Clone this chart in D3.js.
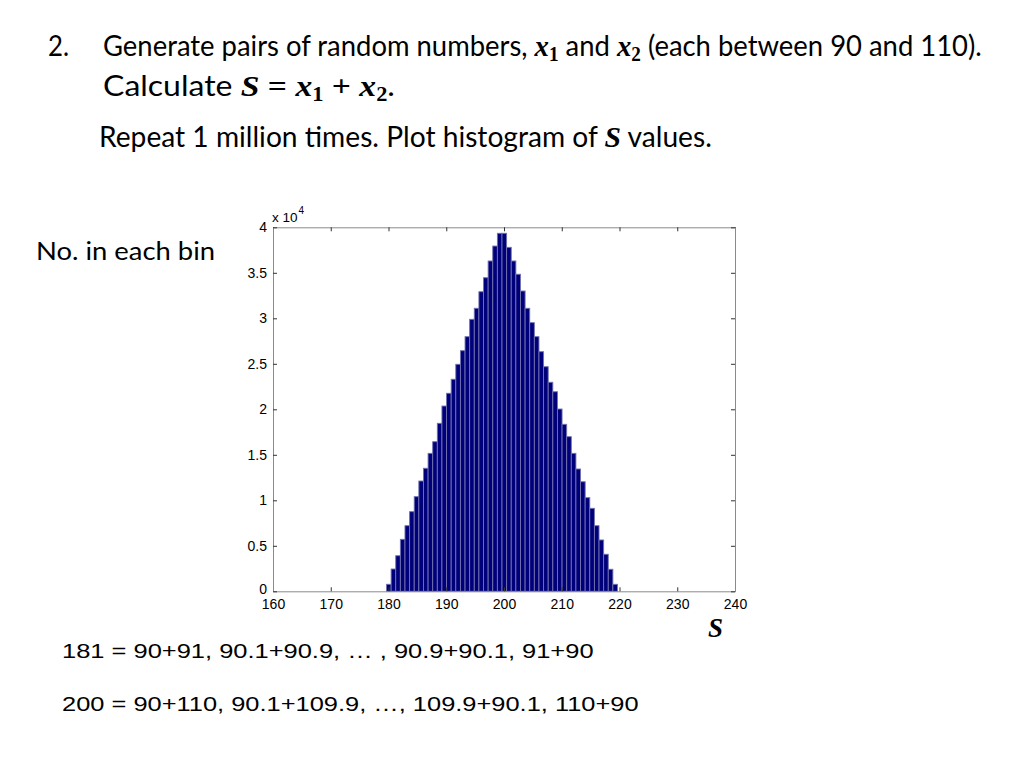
<!DOCTYPE html>
<html><head><meta charset="utf-8">
<script src="https://cdn.jsdelivr.net/npm/d3@7"></script>
<style>body{margin:0;background:#fff}svg{display:block}</style>
</head><body>
<svg id="c" width="1024" height="768"></svg>
<script>
// ---- data ----
const binCenters = [180.4,181.2,182.0,182.8,183.6,184.4,185.2,186.0,186.8,187.6,
  188.4,189.2,190.0,190.8,191.6,192.4,193.2,194.0,194.8,195.6,
  196.4,197.2,198.0,198.8,199.6,200.4,201.2,202.0,202.8,203.6,
  204.4,205.2,206.0,206.8,207.6,208.4,209.2,210.0,210.8,211.6,
  212.4,213.2,214.0,214.8,215.6,216.4,217.2,218.0,218.8,219.6];
const binWidth = 0.8;
const counts = [770,2450,3910,5710,7210,8750,10400,12120,13520,15160,
  16440,18460,20360,21760,23300,24945,26440,27980,29890,31100,
  32920,34460,36300,37940,39340,39340,37800,36300,34840,33000,
  31100,29520,27980,26330,24680,22970,21930,20030,18350,16990,
  15160,13440,12040,10290,9120,7210,5640,4070,2420,770];
const xTicks = [160,170,180,190,200,210,220,230,240];
const yTicks = [0,5000,10000,15000,20000,25000,30000,35000,40000];
const yTickLabels = ["0","0.5","1","1.5","2","2.5","3","3.5","4"];

const svg = d3.select("#c");
const L=273, R=735, T=227.3, B=591.3;
const x = d3.scaleLinear().domain([160,240]).range([L,R]);
const y = d3.scaleLinear().domain([0,40000]).range([B,T]);

// bars
svg.append("g").attr("transform","translate(-2,0)").selectAll("rect").data(counts).join("rect")
  .attr("x",(d,i)=>x(binCenters[i]-binWidth/2))
  .attr("width",(d,i)=>x(binCenters[i]+binWidth/2)-x(binCenters[i]-binWidth/2))
  .attr("y",d=>y(d)).attr("height",d=>B-y(d))
  .attr("fill","#00007a").attr("stroke","#7272b0").attr("stroke-width",0.9);

const axFont = "'Liberation Sans', Arial, sans-serif";
function styleAxis(g){
  g.select(".domain").attr("stroke","#8a8a8a");
  g.selectAll(".tick line").attr("stroke","#333");
  g.selectAll(".tick text").attr("fill","#000").style("font-family",axFont).style("font-size","14px");
}
svg.append("g").attr("transform",`translate(0,${B})`)
  .call(d3.axisBottom(x).tickValues(xTicks).tickSizeInner(-4).tickSizeOuter(0).tickPadding(8).tickFormat(d3.format("d")))
  .call(styleAxis);
svg.append("g").attr("transform",`translate(0,${T})`)
  .call(d3.axisTop(x).tickValues(xTicks).tickSizeInner(-4).tickSizeOuter(0).tickFormat(""))
  .call(styleAxis);
const yAx = svg.append("g").attr("transform",`translate(${L},0)`)
  .call(d3.axisLeft(y).tickValues(yTicks).tickSizeInner(-4).tickSizeOuter(0).tickPadding(6).tickFormat((d,i)=>yTickLabels[i]))
  .call(styleAxis);
yAx.selectAll(".tick text").filter(d=>d===0).attr("dy","0.15em");
svg.append("g").attr("transform",`translate(${R},0)`)
  .call(d3.axisRight(y).tickValues(yTicks).tickSizeInner(-4).tickSizeOuter(0).tickFormat(""))
  .call(styleAxis);

// exponent label
const ex = svg.append("text").attr("x",L-1).attr("y",T-5).style("font-family",axFont).style("font-size","13.5px");
ex.append("tspan").text("x 10");
ex.append("tspan").attr("dy",-8).attr("dx",1).style("font-size","10px").text("4");

// ---- slide text ----
const sans = "'Lato', 'DejaVu Sans', sans-serif";
const serif = "'Liberation Serif', 'DejaVu Serif', serif";
function fit(g, x0, base, width){
  const bw = g.node().getBBox().width;
  g.attr("transform",`translate(${x0},${base}) scale(${width/bw},1)`);
}
function math(t, s, parts){
  let low = false;
  parts.forEach(([s2,k])=>{
    const ts = t.append("tspan").text(s2);
    if(k==='m'){ ts.attr("font-family",serif).attr("font-weight","bold").attr("font-style","italic").attr("font-size",s*1.05); }
    else if(k==='o'){ ts.attr("font-family",serif).attr("font-weight","bold").attr("font-size",s*1.05); }
    else if(k==='s'){ ts.attr("font-family",serif).attr("font-weight","bold").attr("font-size",s*0.7).attr("dy",s*0.18); low=true; return; }
    if(low){ ts.attr("dy",-s*0.18); low=false; }
  });
}
const fs = 29;
let g0 = svg.append("g"); g0.append("text").attr("font-family",sans).attr("font-size",fs).text("2.");
fit(g0, 48, 56, 21);
let g1 = svg.append("g"); let t1 = g1.append("text").attr("font-family",sans).attr("font-size",fs);
math(t1, fs, [["Generate pairs of random numbers, ",'t'],["x",'m'],["1",'s'],[" and ",'t'],["x",'m'],["2",'s'],[" (each between 90 and 110).",'t']]);
fit(g1, 103, 56, 879);
let g2 = svg.append("g"); let t2 = g2.append("text").attr("font-family",sans).attr("font-size",fs);
math(t2, fs, [["Calculate ",'t'],["S",'m'],[" = ",'o'],["x",'m'],["1",'s'],[" + ",'o'],["x",'m'],["2",'s'],[".",'t']]);
fit(g2, 103, 96, 292);
let g3 = svg.append("g"); let t3 = g3.append("text").attr("font-family",sans).attr("font-size",fs);
math(t3, fs, [["Repeat 1 million times. Plot histogram of ",'t'],["S",'m'],[" values.",'t']]);
fit(g3, 99, 147, 613);
let g4 = svg.append("g"); g4.append("text").attr("font-family",sans).attr("font-size",25).text("No. in each bin");
fit(g4, 36, 260, 179);
svg.append("text").attr("x",708).attr("y",637).attr("font-family",serif).attr("font-weight","bold").attr("font-style","italic").attr("font-size",27).text("S");
const hel = "'Liberation Sans', Arial, sans-serif";
let g5 = svg.append("g"); g5.append("text").attr("font-family",hel).attr("font-size",21).text("181 = 90+91, 90.1+90.9, \u2026 , 90.9+90.1, 91+90");
fit(g5, 62, 658, 532);
let g6 = svg.append("g"); g6.append("text").attr("font-family",hel).attr("font-size",21).text("200 = 90+110, 90.1+109.9, \u2026, 109.9+90.1, 110+90");
fit(g6, 62, 711, 577);
</script>
</body></html>
